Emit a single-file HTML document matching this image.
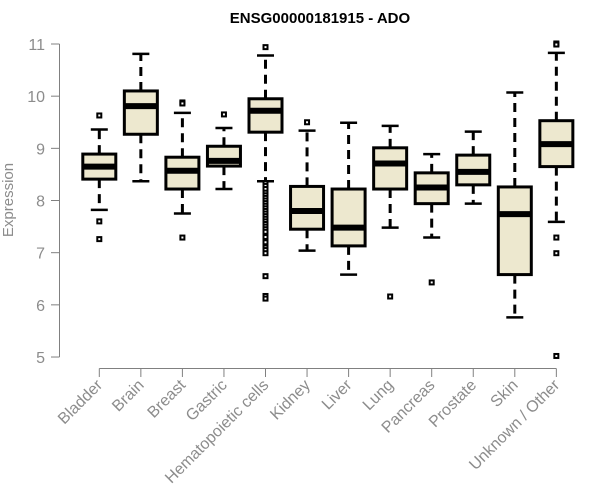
<!DOCTYPE html>
<html><head><meta charset="utf-8"><style>
body{margin:0;background:#fff;}
svg{display:block;font-family:"Liberation Sans",Arial,sans-serif;}
</style></head><body>
<svg id="chart" width="600" height="500">
<text x="320" y="23" text-anchor="middle" font-size="15" font-weight="bold">ENSG00000181915 - ADO</text>
<text transform="translate(13,200) rotate(-90)" text-anchor="middle" font-size="15" fill="#8c8c8c">Expression</text>
<g id="yaxis"></g>
<g id="xaxis"></g>
<g id="boxes"></g>
</svg>
<script>
const categories=["Bladder","Brain","Breast","Gastric","Hematopoietic cells","Kidney","Liver","Lung","Pancreas","Prostate","Skin","Unknown / Other"];
const lowerWhisker=[7.82,8.37,7.75,8.22,8.37,7.04,6.58,7.48,7.29,7.94,5.76,7.59];
const q1=[8.41,9.27,8.22,8.66,9.31,7.45,7.13,8.22,7.94,8.30,6.58,8.65];
const medians=[8.65,9.81,8.57,8.76,9.72,7.80,7.48,8.71,8.25,8.55,7.74,9.08];
const q3=[8.89,10.10,8.83,9.04,9.95,8.27,8.22,9.01,8.53,8.87,8.26,9.53];
const upperWhisker=[9.36,10.81,9.68,9.39,10.78,9.34,9.49,9.43,8.89,9.32,10.07,10.83];
const outliers=[[9.63,7.60,7.26],[],[9.88,9.86,7.29],[9.65],[10.94,8.33,8.28,8.22,8.15,8.1,8.05,8.0,7.95,7.9,7.85,7.8,7.75,7.7,7.65,7.6,7.55,7.5,7.45,7.4,7.3,7.2,7.1,7.05,6.99,6.55,6.17,6.12],[9.50],[],[6.16],[6.43],[],[],[11.01,10.99,7.29,6.99,5.02]];
const yTicks=[5,6,7,8,9,10,11];
const NS="http://www.w3.org/2000/svg";
function y(v){return 44+(11-v)*52.17;}
function x(i){return 99.3+41.55*i;}
function mk(parent,tag,attrs){const e=document.createElementNS(NS,tag);for(const k in attrs)e.setAttribute(k,attrs[k]);parent.appendChild(e);return e;}
const ya=document.getElementById('yaxis');
let e=mk(ya,'line',{x1:59.5,x2:59.5,y1:y(11),y2:y(5),stroke:'#808080','stroke-width':1});


yTicks.forEach(t=>{
 let l=mk(ya,'line',{x1:51,x2:59.5,y1:y(t),y2:y(t),stroke:'#808080'});
 
 
 let tx=mk(ya,'text',{x:45,y:y(t)+6,'text-anchor':'end','font-size':16,fill:'#8c8c8c'});
 tx.textContent=t;
 
 
});
const xa=document.getElementById('xaxis');
e=mk(xa,'line',{x1:x(0),x2:x(categories.length-1),y1:368.5,y2:368.5,stroke:'#808080'});


const bx=document.getElementById('boxes');
categories.forEach((c,i)=>{
 const cx=x(i);
 let l=mk(xa,'line',{x1:cx,x2:cx,y1:368.5,y2:377,stroke:'#808080'});
 
 
 let tx=mk(xa,'text',{transform:`translate(${cx+4},${386}) rotate(-45)`,'text-anchor':'end','font-size':16,fill:'#8c8c8c'});
 tx.textContent=c;
 
 
 const g=mk(bx,'g',{});
 
 
 mk(g,'line',{x1:cx,x2:cx,y1:y(q3[i]),y2:y(upperWhisker[i]),stroke:'#000','stroke-width':3,'stroke-dasharray':'9,6'});
 mk(g,'line',{x1:cx,x2:cx,y1:y(q1[i]),y2:y(lowerWhisker[i]),stroke:'#000','stroke-width':3,'stroke-dasharray':'9,6'});
 mk(g,'line',{x1:cx-8.5,x2:cx+8.5,y1:y(upperWhisker[i]),y2:y(upperWhisker[i]),stroke:'#000','stroke-width':2.5});
 mk(g,'line',{x1:cx-8.5,x2:cx+8.5,y1:y(lowerWhisker[i]),y2:y(lowerWhisker[i]),stroke:'#000','stroke-width':2.5});
 mk(g,'rect',{x:cx-16.5,y:y(q3[i]),width:33,height:y(q1[i])-y(q3[i]),fill:'#ede8cf',stroke:'#000','stroke-width':3});
 mk(g,'line',{x1:cx-16.5,x2:cx+16.5,y1:y(medians[i]),y2:y(medians[i]),stroke:'#000','stroke-width':6});
 outliers[i].forEach(v=>{
  let r=mk(g,'rect',{x:cx-2,y:y(v)-2,width:4,height:4,fill:'#fff',stroke:'#000','stroke-width':2});
  
  
 });
});
</script>
</body></html>
